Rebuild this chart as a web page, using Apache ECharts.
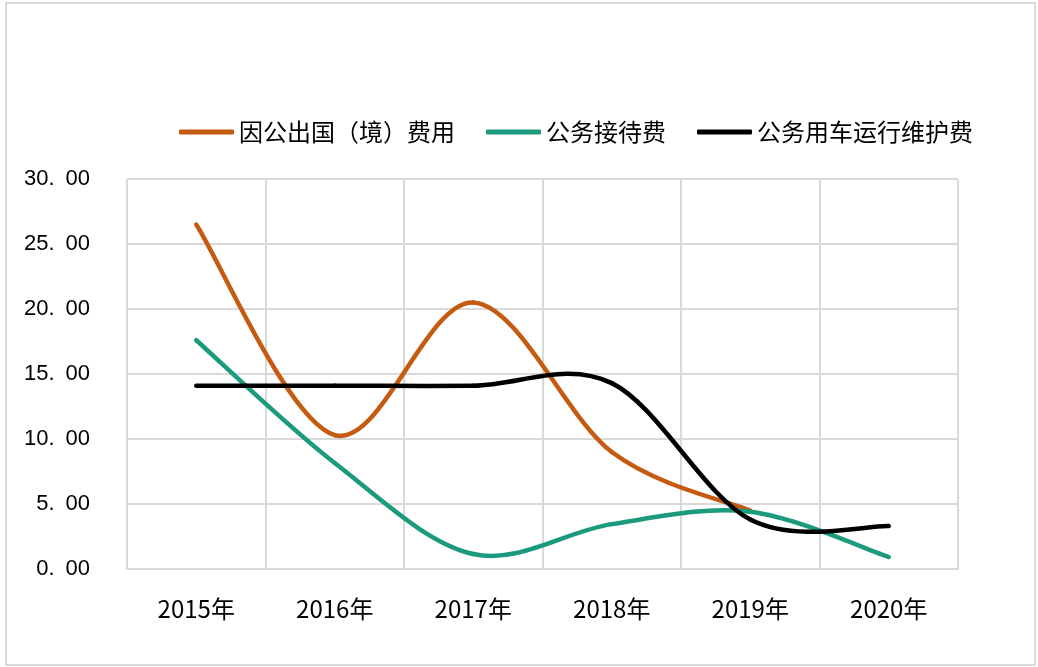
<!DOCTYPE html>
<html>
<head>
<meta charset="utf-8">
<script src="https://cdn.jsdelivr.net/npm/echarts@6/dist/echarts.min.js"></script>
<style>
  html, body { margin: 0; padding: 0; background: #fff; }
  #main { width: 1038px; height: 667px; }
</style>
</head>
<body>
<div id="main"></div>
<script>
var years = ['2015年', '2016年', '2017年', '2018年', '2019年', '2020年'];
var names = ['因公出国（境）费用', '公务接待费', '公务用车运行维护费'];
var abroad = [26.5, 10.3, 20.5, 9.0, 4.5, null];
var reception = [17.6, 8.15, 1.15, 3.45, 4.4, 0.92];
var vehicle = [14.1, 14.1, 14.1, 14.3, 3.8, 3.3];
var colors = ['#C55A11', '#1C9A7D', '#000000'];

var dom = document.getElementById('main');
var myChart = echarts.init(dom);

var font = '"Noto Sans CJK SC", sans-serif';

// Excel style smoothed line: each item draws the bezier piece to the next point
function curve(name, values, color) {
    function pt(api, k) {
        k = Math.max(0, Math.min(values.length - 1, k));
        while (values[k] == null && k > 0) k--;
        return api.coord([k, values[k]]);
    }
    return {
        name: name,
        type: 'custom',
        data: values.map(function (v, i) { return [i, v == null ? '-' : v]; }),
        encode: { x: 0, y: 1 },
        itemStyle: { color: color },
        renderItem: function (params, api) {
            var i = params.dataIndex;
            if (i >= values.length - 1 || values[i] == null || values[i + 1] == null) return;
            var p0 = pt(api, i - 1), p1 = pt(api, i), p2 = pt(api, i + 1), p3 = pt(api, i + 2);
            return {
                type: 'bezierCurve',
                shape: {
                    x1: p1[0], y1: p1[1],
                    x2: p2[0], y2: p2[1],
                    cpx1: p1[0] + (p2[0] - p0[0]) / 6,
                    cpy1: p1[1] + (p2[1] - p0[1]) / 6,
                    cpx2: p2[0] - (p3[0] - p1[0]) / 6,
                    cpy2: p2[1] - (p3[1] - p1[1]) / 6
                },
                style: { stroke: color, lineWidth: 4.5, fill: 'none', lineCap: 'round' }
            };
        }
    };
}

var option = {
    animation: false,
    graphic: [{
        type: 'rect',
        shape: { x: 6, y: 3, width: 1029, height: 662 },
        style: { fill: 'none', stroke: '#d9d9d9', lineWidth: 2 },
        silent: true
    }],
    legend: {
        top: 115,
        left: 174,
        icon: 'roundRect',
        itemWidth: 55,
        itemHeight: 5,
        itemGap: 31,
        textStyle: { fontSize: 24, color: '#000', fontFamily: font },
        data: names
    },
    grid: {
        left: 127,
        right: 80,
        top: 179,
        bottom: 98
    },
    xAxis: {
        type: 'category',
        data: years,
        boundaryGap: true,
        axisLine: { show: true, lineStyle: { color: '#d9d9d9', width: 2 } },
        axisTick: { show: false },
        splitLine: { show: true, lineStyle: { color: '#d9d9d9', width: 2 } },
        axisLabel: {
            margin: 28,
            fontSize: 24,
            color: '#000',
            fontFamily: font
        }
    },
    yAxis: {
        type: 'value',
        min: 0,
        max: 30,
        interval: 5,
        axisLine: { show: false },
        axisTick: { show: false },
        splitLine: { show: true, lineStyle: { color: '#d9d9d9', width: 2 } },
        axisLabel: {
            margin: 37,
            fontSize: 22,
            color: '#000',
            fontFamily: '"Liberation Sans", sans-serif',
            formatter: function (v) { return v.toFixed(2).replace('.', '.\u2002'); }
        }
    },
    series: [
        curve(names[0], abroad, colors[0]),
        curve(names[1], reception, colors[1]),
        curve(names[2], vehicle, colors[2])
    ]
};

if (option && typeof option === 'object') {
    myChart.setOption(option);
}
</script>
</body>
</html>
